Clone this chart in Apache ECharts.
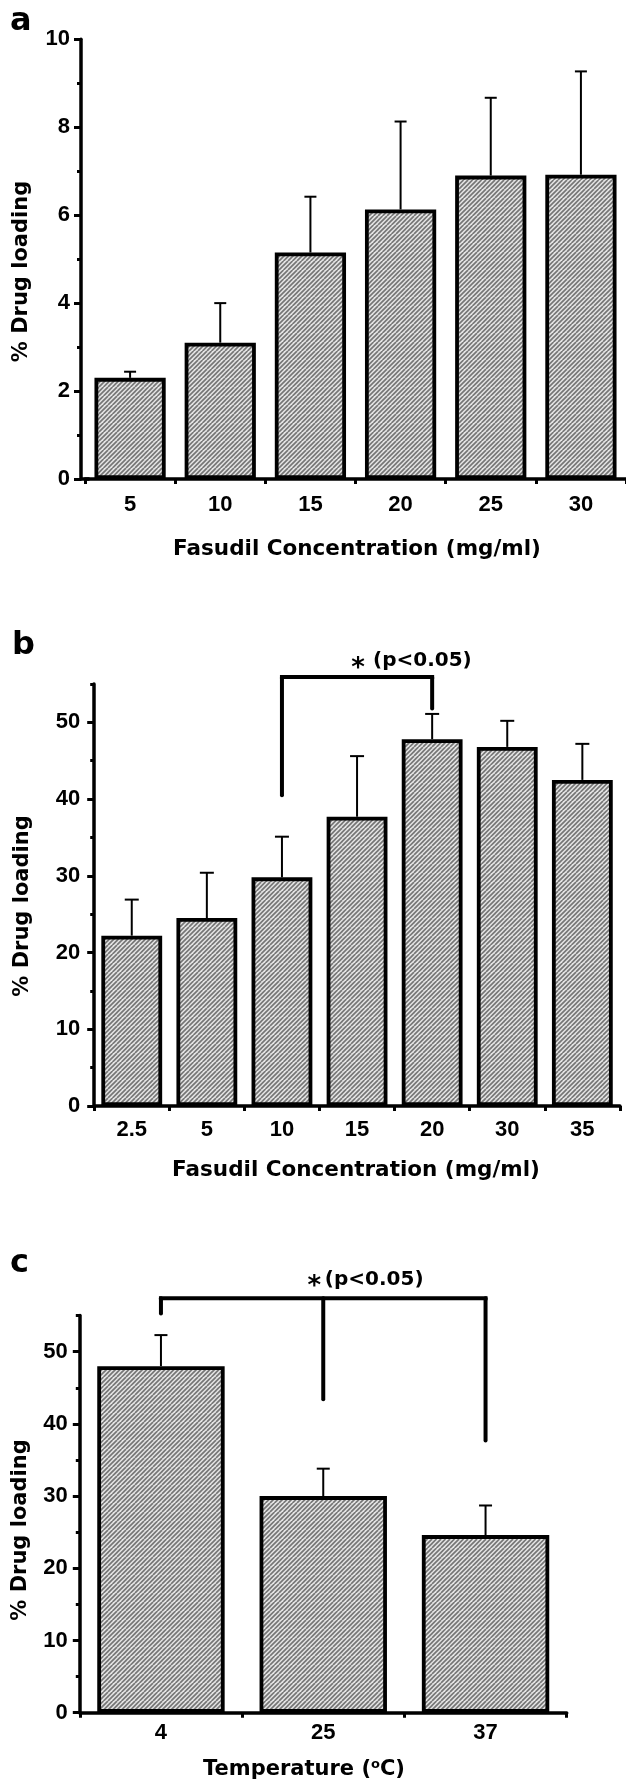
<!DOCTYPE html>
<html>
<head>
<meta charset="utf-8">
<script src="https://cdn.jsdelivr.net/npm/echarts@6/dist/echarts.min.js"></script>
<style>
  html, body { margin: 0; padding: 0; background: #fff; }
  #main { width: 626px; height: 1784px; }
</style>
</head>
<body>
<div id="main"></div>
<script>
// panel a - drug loading vs fasudil concentration
const concA = ['5', '10', '15', '20', '25', '30'];
const loadA = [2.3, 3.1, 5.15, 6.13, 6.9, 6.92];
const errTopA = [2.44, 4.0, 6.42, 8.13, 8.67, 9.27];
const yTicksA = [0, 2, 4, 6, 8, 10];

// panel b
const concB = ['2.5', '5', '10', '15', '20', '30', '35'];
const loadB = [22.2, 24.5, 29.8, 37.7, 47.8, 46.8, 42.5];
const errTopB = [26.9, 30.4, 35.1, 45.6, 51.1, 50.2, 47.2];
const yTicksB = [0, 10, 20, 30, 40, 50];
const bracketLegsB = [['10', 40.5], ['20', 51.8]];
const bracketTopB = 55.9;

// panel c - drug loading vs temperature
const tempC = ['4', '25', '37'];
const loadC = [48.0, 30.0, 24.6];
const errTopC = [52.3, 33.8, 28.7];
const yTicksC = [0, 10, 20, 30, 40, 50];
const bracketLegsC = [['4', 55.3], ['25', 43.4], ['37', 37.7]];
const bracketTopC = 57.4;

const TITLE_FONT = 'DejaVu Sans';
const TICK_FONT = 'Liberation Sans';

// diagonal hatch used to fill the bars
function makeHatch() {
  const n = 9;
  const c = document.createElement('canvas');
  c.width = n;
  c.height = n;
  const g = c.getContext('2d');
  g.fillStyle = '#e6e6e6';
  g.fillRect(0, 0, n, n);
  g.strokeStyle = '#767676';
  g.lineWidth = 1.7;
  for (let k = -n; k <= n; k += n / 2) {
    g.beginPath();
    g.moveTo(k, n);
    g.lineTo(k + n, 0);
    g.stroke();
  }
  return c;
}
const hatch = { image: makeHatch(), repeat: 'repeat' };

const grids = [
  { left: 85, top: 39.3, width: 543.6, height: 439.7 },
  { left: 94.2, top: 684, width: 525.7, height: 422 },
  { left: 79.8, top: 1315.6, width: 486.9, height: 397.1 }
];

function mainX(g, cats, margin, extendStart) {
  return {
    type: 'category', gridIndex: g, data: cats, position: 'bottom',
    axisLine: {
      lineStyle: { color: '#000', width: 3.5 },
      symbol: extendStart ? ['rect', 'none'] : ['none', 'none'],
      symbolSize: [3.5, 9]
    },
    axisTick: { alignWithLabel: true, length: 8, lineStyle: { color: '#000', width: 3 } },
    axisLabel: { color: '#000', fontFamily: TICK_FONT, fontWeight: 'bold', fontSize: 22, margin: margin },
    splitLine: { show: false }
  };
}
function minorX(g, cats) {
  return {
    type: 'category', gridIndex: g, data: cats, position: 'bottom',
    axisLine: { show: false },
    axisTick: { show: true, length: 5, lineStyle: { color: '#000', width: 3 } },
    axisLabel: { show: false },
    splitLine: { show: false }
  };
}
function mainY(g, max, interval, ticks, margin, offset) {
  return {
    type: 'value', gridIndex: g, position: 'left', min: 0, max: max, interval: interval, offset: offset,
    axisLine: { show: true, lineStyle: { color: '#000', width: 3.5 } },
    axisTick: { show: true, length: 7, customValues: ticks, lineStyle: { color: '#000', width: 3 } },
    axisLabel: { customValues: ticks, color: '#000', fontFamily: TICK_FONT, fontWeight: 'bold', fontSize: 22, margin: margin },
    splitLine: { show: false }
  };
}
function minorY(g, max, interval, offset) {
  return {
    type: 'value', gridIndex: g, position: 'left', min: 0, max: max, interval: interval, offset: offset,
    axisLine: { show: false },
    axisTick: { show: true, length: 4, lineStyle: { color: '#000', width: 3 } },
    axisLabel: { show: false },
    splitLine: { show: false }
  };
}

function barSeries(g, values, width) {
  return {
    type: 'bar', xAxisIndex: g * 2, yAxisIndex: g * 2, data: values, barWidth: width,
    itemStyle: { color: hatch, borderColor: '#000', borderWidth: 3.8 },
    z: 2
  };
}

function errorSeries(g, values, tops, capW) {
  return {
    type: 'custom', xAxisIndex: g * 2, yAxisIndex: g * 2, z: 3,
    data: values.map((v, i) => [i, v, tops[i]]),
    renderItem: function (params, api) {
      const base = api.coord([api.value(0), api.value(1)]);
      const top = api.coord([api.value(0), api.value(2)]);
      const st = { stroke: '#000', lineWidth: 2 };
      return {
        type: 'group',
        children: [
          { type: 'line', shape: { x1: base[0], y1: base[1], x2: top[0], y2: top[1] }, style: st },
          { type: 'line', shape: { x1: top[0] - capW / 2, y1: top[1], x2: top[0] + capW / 2, y2: top[1] }, style: st }
        ]
      };
    }
  };
}

// significance bracket with its "* (p<0.05)" note
function bracketSeries(g, cats, legs, topVal, star, note) {
  const idx = legs.map(l => cats.indexOf(l[0]));
  return {
    type: 'custom', xAxisIndex: g * 2, yAxisIndex: g * 2, z: 4,
    data: legs.map((l, i) => [idx[i], l[1]]),
    renderItem: function (params, api) {
      const end = api.coord([api.value(0), api.value(1)]);
      const top = api.coord([api.value(0), topVal]);
      const kids = [{
        type: 'line', shape: { x1: top[0], y1: top[1], x2: end[0], y2: end[1] },
        style: { stroke: '#000', lineWidth: 4, lineCap: 'round' }
      }];
      if (params.dataIndex === 0) {
        const last = api.coord([idx[idx.length - 1], topVal]);
        const mid = (top[0] + last[0]) / 2;
        kids.push({
          type: 'line', shape: { x1: top[0], y1: top[1], x2: last[0], y2: last[1] },
          style: { stroke: '#000', lineWidth: 4, lineCap: 'square' }
        });
        kids.push({
          type: 'text', x: mid + star[0], y: top[1] + star[1],
          style: { text: '*', fill: '#000', font: 'bold 26px "' + TITLE_FONT + '"', align: 'center', verticalAlign: 'middle' }
        });
        kids.push({
          type: 'text', x: mid + note[0], y: top[1] + note[1],
          style: { text: '(p<0.05)', fill: '#000', font: 'bold 20px "' + TITLE_FONT + '"', align: 'left', verticalAlign: 'middle' }
        });
      }
      return { type: 'group', children: kids };
    }
  };
}

function label(text, x, y, size, rot) {
  return {
    type: 'text', x: x, y: y, rotation: rot || 0,
    style: { text: text, fill: '#000', font: 'bold ' + size + 'px "' + TITLE_FONT + '"', align: rot ? 'center' : 'left', verticalAlign: 'middle' }
  };
}
function centered(text, x, y, size) {
  return {
    type: 'text', x: x, y: y,
    style: { text: text, fill: '#000', font: 'bold ' + size + 'px "' + TITLE_FONT + '"', align: 'center', verticalAlign: 'middle' }
  };
}

const chart = echarts.init(document.getElementById('main'), null, { renderer: 'canvas' });

chart.setOption({
  animation: false,
  backgroundColor: '#fff',
  grid: grids,
  xAxis: [
    mainX(0, concA, 15, true), minorX(0, concA),
    mainX(1, concB, 13, false), minorX(1, concB),
    mainX(2, tempC, 9, false), minorX(2, tempC)
  ],
  yAxis: [
    mainY(0, 10, 2, yTicksA, 11, 4), minorY(0, 10, 1, 4),
    mainY(1, 55, 10, yTicksB, 14, 0), minorY(1, 55, 5, 0),
    mainY(2, 55, 10, yTicksC, 12, 0), minorY(2, 55, 5, 0)
  ],
  series: [
    barSeries(0, loadA, '79%'),
    errorSeries(0, loadA, errTopA, 12),
    barSeries(1, loadB, '81%'),
    errorSeries(1, loadB, errTopB, 14),
    bracketSeries(1, concB, bracketLegsB, bracketTopB, [1, -8], [16, -16]),
    barSeries(2, loadC, '78.5%'),
    errorSeries(2, loadC, errTopC, 13),
    bracketSeries(2, tempC, bracketLegsC, bracketTopC, [-9, -11], [1.6, -18])
  ],
  graphic: [
    label('a', 10, 22, 32),
    label('b', 12, 646, 32),
    label('c', 10, 1264, 32),
    label('% Drug loading', 21.5, 271.5, 21, Math.PI / 2),
    label('% Drug loading', 23, 906, 21, Math.PI / 2),
    label('% Drug loading', 21, 1530, 21, Math.PI / 2),
    centered('Fasudil Concentration (mg/ml)', 357, 549, 21.5),
    centered('Fasudil Concentration (mg/ml)', 356, 1170, 21.5),
    {
      type: 'text', x: 304, y: 1770,
      style: {
        text: '{n|Temperature (}{s|o}{n|C)}',
        align: 'center', verticalAlign: 'middle', fill: '#000',
        rich: {
          n: { fontFamily: TITLE_FONT, fontWeight: 'bold', fontSize: 21, lineHeight: 24 },
          s: { fontFamily: TITLE_FONT, fontWeight: 'bold', fontSize: 13, lineHeight: 24, verticalAlign: 'top' }
        }
      }
    }
  ]
});
</script>
</body>
</html>
